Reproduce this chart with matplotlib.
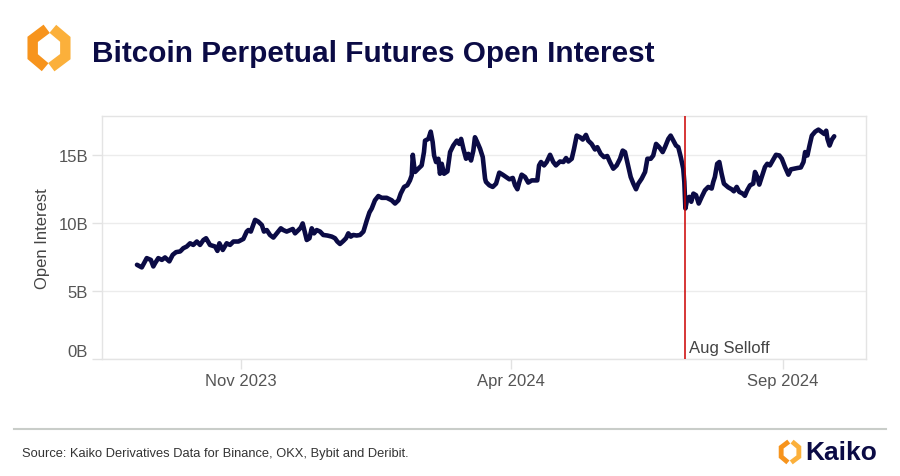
import matplotlib
matplotlib.use("Agg")
import matplotlib.pyplot as plt
from matplotlib.lines import Line2D
from matplotlib.transforms import ScaledTranslation
import numpy as np
import pandas as pd

plt.rcParams['font.family'] = ['Liberation Sans', 'DejaVu Sans']

# data: days since 2023-09-01, open interest in billions USD
start = pd.Timestamp("2023-09-01")
day = [2.4, 5.1, 7.9, 10.2, 11.6, 12.6, 14.4, 16.4, 18.2, 20.6,
       22.5, 24.4, 26.7, 28.5, 30.4, 32.3, 34.1, 36.1, 37.9, 39.8,
       41.3, 43.5, 46.4, 47.7, 48.8, 50.7, 52.9, 54.8, 56.7, 59.5,
       62.3, 64.2, 65.1, 66.5, 68.9, 70.7, 72.7, 73.9, 75.5, 77.3,
       79.2, 81.1, 83.4, 84.8, 86.7, 88.6, 90.1, 91.4, 93.3, 94.6,
       95.7, 96.6, 98.0, 99.5, 100.8, 102.1, 103.6, 105.5, 107.3, 109.6,
       112.1, 113.9, 115.2, 116.7, 118.6, 120.1, 121.4, 122.8, 124.2, 126.1,
       128.0, 129.9, 131.8, 133.3, 134.6, 136.4, 138.3, 140.2, 143.0, 145.8,
       147.7, 149.6, 150.9, 152.8, 154.6, 156.1, 157.1, 157.7, 158.4, 159.0,
       160.8, 162.7, 164.0, 164.6, 166.5, 167.8, 168.9, 169.7, 170.8, 172.1,
       173.0, 174.0, 175.3, 177.2, 178.7, 180.5, 182.5, 183.9, 184.9, 186.2,
       187.7, 189.0, 190.5, 191.8, 192.7, 194.0, 195.6, 197.1, 198.4, 198.9,
       200.8, 202.7, 204.6, 206.4, 208.3, 210.2, 212.1, 214.0, 215.3, 216.6,
       217.7, 219.0, 220.9, 222.7, 224.7, 226.5, 227.8, 228.8, 229.9, 231.6,
       233.1, 235.0, 236.8, 238.3, 240.6, 242.5, 244.0, 245.3, 247.2, 248.5,
       250.0, 251.9, 253.4, 255.2, 256.5, 258.4, 260.3, 261.6, 263.5, 265.4,
       267.2, 268.7, 270.6, 272.5, 274.4, 275.9, 277.2, 278.5, 280.4, 281.9,
       283.4, 284.7, 286.6, 288.5, 289.8, 291.7, 293.1, 294.7, 296.5, 298.4,
       299.7, 301.6, 302.9, 304.4, 305.9, 307.2, 308.6, 310.0, 310.6, 311.2,
       312.3, 313.4, 314.5, 315.7, 317.2, 318.7, 320.4, 322.2, 324.1, 326.0,
       326.9, 327.8, 329.1, 330.3, 331.6, 332.9, 335.3, 337.2, 338.5, 340.1,
       341.5, 343.5, 344.7, 346.0, 347.6, 349.4, 350.4, 351.7, 352.8, 354.2,
       356.0, 357.3, 358.8, 360.4, 362.2, 364.1, 365.5, 367.3, 369.2, 370.6,
       372.4, 374.3, 376.2, 377.7, 378.6, 379.9, 381.1, 382.4, 384.3, 386.1,
       388.1, 389.4, 390.5, 391.2, 392.4, 393.7, 395.0]
oi = [6.92, 6.73, 7.41, 7.28, 6.80, 7.04, 7.41, 7.28, 7.46, 7.17,
      7.65, 7.85, 7.90, 8.14, 8.26, 8.50, 8.38, 8.63, 8.38, 8.74,
      8.87, 8.38, 8.26, 7.94, 8.50, 8.01, 8.50, 8.38, 8.63, 8.63,
      8.82, 9.36, 9.47, 9.36, 10.22, 10.09, 9.84, 9.36, 9.47, 9.11,
      8.92, 9.23, 9.60, 9.47, 9.36, 9.47, 9.55, 9.23, 9.47, 9.65,
      9.96, 9.47, 8.74, 8.87, 9.60, 9.23, 9.47, 9.36, 9.11, 9.07,
      8.99, 8.87, 8.63, 8.45, 8.67, 8.87, 9.23, 8.99, 9.11, 9.07,
      9.11, 9.36, 10.18, 10.77, 11.06, 11.66, 11.97, 11.84, 11.84, 11.66,
      11.42, 11.66, 12.15, 12.64, 12.76, 13.12, 13.49, 15.00, 14.22, 13.74,
      13.98, 14.22, 15.20, 16.04, 16.17, 16.70, 15.93, 14.95, 14.47, 14.71,
      13.61, 14.34, 13.61, 13.78, 15.20, 15.68, 16.04, 15.80, 16.17, 15.44,
      14.71, 15.07, 14.58, 15.31, 16.29, 15.93, 15.44, 14.83, 13.25, 13.01,
      12.76, 12.64, 12.88, 13.69, 13.54, 13.37, 13.20, 13.30, 12.76, 12.47,
      13.01, 13.54, 13.37, 12.96, 13.12, 13.12, 13.12, 14.22, 14.47, 14.22,
      14.47, 15.00, 14.47, 14.22, 14.51, 14.47, 14.76, 14.51, 14.71, 15.44,
      16.41, 16.29, 16.12, 16.46, 16.04, 15.80, 15.39, 15.56, 15.07, 14.83,
      14.91, 14.47, 13.98, 14.22, 14.71, 15.31, 15.20, 14.47, 13.37, 12.88,
      12.47, 12.88, 13.25, 13.74, 14.71, 14.71, 14.95, 15.80, 15.56, 15.20,
      15.56, 16.17, 16.41, 16.04, 15.68, 15.56, 14.83, 13.98, 13.01, 11.06,
      11.79, 11.91, 11.55, 12.15, 12.03, 11.42, 11.91, 12.39, 12.64, 12.52,
      13.01, 13.37, 14.34, 14.47, 13.61, 12.88, 12.61, 12.47, 12.32, 12.64,
      12.28, 12.15, 11.99, 12.39, 12.76, 12.88, 13.74, 13.37, 12.81, 13.37,
      14.10, 14.34, 14.22, 14.58, 15.00, 14.95, 14.71, 14.10, 13.54, 13.93,
      13.98, 14.03, 14.07, 14.47, 15.20, 14.95, 15.68, 16.41, 16.70, 16.85,
      16.66, 16.53, 16.77, 16.17, 15.68, 16.12, 16.36]
selloff_day = 310.7
selloff_label = "Aug Selloff"
tick_dates = ["2023-11-01", "2024-04-01", "2024-09-01"]
tick_labels = ["Nov 2023", "Apr 2024", "Sep 2024"]
y_ticks = [0, 5, 10, 15]
y_labels = ["0B", "5B", "10B", "15B"]

W, H = 900, 477
navy = '#0b0b45'

dates = start + pd.to_timedelta(day, unit="D")

fig = plt.figure(figsize=(W / 100, H / 100), dpi=100)
ax = fig.add_axes([102 / W, 1 - 360 / H, (866 - 102) / W, (360 - 117) / H])

ax.plot(dates, oi, color=navy, lw=3.3, solid_joinstyle='round', solid_capstyle='round', zorder=3)
sel = start + pd.Timedelta(days=selloff_day)
ax.axvline(sel, color='#cc0000', lw=1.1, zorder=4)
ax.text(sel + pd.Timedelta(days=2.5), 0.3, selloff_label, fontsize=12,
        color='#444444', ha='left', va='bottom')

ax.set_xlim(start + pd.Timedelta(days=-17.3), start + pd.Timedelta(days=412.9))
ax.set_ylim(0, 17.85)
ax.set_xticks(pd.to_datetime(tick_dates))
ax.set_xticklabels(tick_labels)
ax.set_yticks(y_ticks)
ax.set_yticklabels(y_labels)
ax.set_ylabel("Open Interest", fontsize=12, color='#444444', labelpad=6)

ax.grid(axis='y', color='#ececec', lw=1)
ax.set_axisbelow(True)
ax.tick_params(axis='both', colors='#e2e2e2', labelcolor='#555555',
               length=7, width=1, labelsize=12, pad=3)
for s in ax.spines.values():
    s.set_color('#e4e4e4')
    s.set_linewidth(1)

# the bottom label sits a little above the axis edge in the original
lab0 = ax.get_yticklabels()[0]
lab0.set_transform(lab0.get_transform() + ScaledTranslation(0, 0.09, fig.dpi_scale_trans))


def draw_logo(cx, cy, size, lw):
    lax = fig.add_axes([(cx - size / 2) / W, 1 - (cy + size / 2) / H, size / W, size / H])
    lax.set_xlim(-1.25, 1.25)
    lax.set_ylim(-1.25, 1.25)
    lax.axis('off')
    # two bracket halves of a hexagon
    lx = [-0.12, -0.85, -0.85, -0.2]
    ly = [1.0, 0.45, -0.45, -1.0]
    rx = [0.2, 0.85, 0.85, 0.12]
    ry = [1.0, 0.45, -0.45, -1.0]
    lax.plot(lx, ly, color='#f7941d', lw=lw, solid_joinstyle='miter', solid_capstyle='butt')
    lax.plot(rx, ry, color='#fbb03b', lw=lw, solid_joinstyle='miter', solid_capstyle='butt')


draw_logo(49, 49, 48, 7.5)
fig.text(92 / W, 1 - 54 / H, "Bitcoin Perpetual Futures Open Interest",
         fontsize=21.4, weight='bold', color=navy, va='center', ha='left')

fig.add_artist(Line2D([14 / W, 886 / W], [1 - 430 / H] * 2, color='#c9cdc9', lw=1.5))
fig.text(22 / W, 1 - 454 / H, "Source: Kaiko Derivatives Data for Binance, OKX, Bybit and Deribit.",
         fontsize=9.3, color='#333333', va='center', ha='left')
draw_logo(790, 453, 26, 3.5)
fig.text(805 / W, 1 - 453 / H, "Kaiko", fontsize=19, weight='bold', color=navy,
         va='center', ha='left')

fig.savefig("out.png", dpi=100)
